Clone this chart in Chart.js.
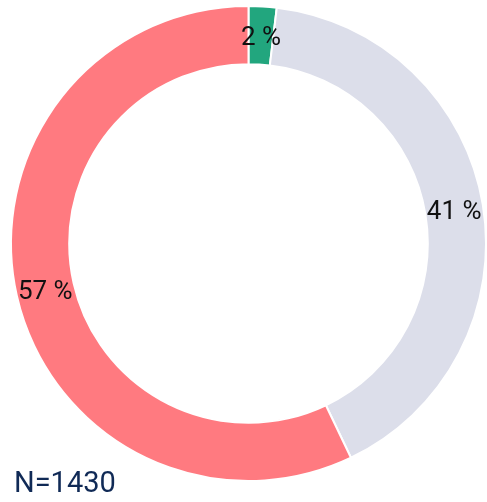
<!DOCTYPE html>
<html>
<head>
<meta charset="utf-8">
<script src="https://cdn.jsdelivr.net/npm/chart.js@4"></script>
<style>
  html, body { margin: 0; padding: 0; background: #ffffff; }
  #wrap { position: relative; width: 487px; height: 502px; }
  #note { position: absolute; left: 14px; top: 468px; font-family: Roboto, sans-serif; font-size: 29px; color: #102a56; line-height: 1; }
</style>
</head>
<body>
<div id="wrap">
  <canvas id="c" width="487" height="502"></canvas>
  <div id="note">N=1430</div>
</div>
<script>
const categories = ["A", "B", "C"];
const shares = [1.9, 41.0, 57.1];
const labels = ["2 %", "41 %", "57 %"];
const colors = ["#22a67e", "#dcdeea", "#ff7a80"];

const labelPlugin = {
  id: 'arcLabels',
  afterDatasetsDraw(chart) {
    const ctx = chart.ctx;
    const meta = chart.getDatasetMeta(0);
    ctx.save();
    ctx.font = '26px Roboto, sans-serif';
    ctx.fillStyle = '#111111';
    ctx.textAlign = 'center';
    ctx.textBaseline = 'middle';
    meta.data.forEach((arc, i) => {
      const p = arc.tooltipPosition();
      ctx.fillText(labels[i], p.x, p.y + 3);
    });
    ctx.restore();
  }
};

new Chart(document.getElementById('c'), {
  type: 'doughnut',
  data: {
    labels: categories,
    datasets: [{
      data: shares,
      backgroundColor: colors,
      borderColor: '#ffffff',
      borderWidth: 2
    }]
  },
  options: {
    responsive: false,
    animation: false,
    cutout: '75.5%',
    layout: { padding: { left: 10, right: 0, top: 5, bottom: 20 } },
    plugins: {
      legend: { display: false },
      tooltip: { enabled: false }
    }
  },
  plugins: [labelPlugin]
});
</script>
</body>
</html>
